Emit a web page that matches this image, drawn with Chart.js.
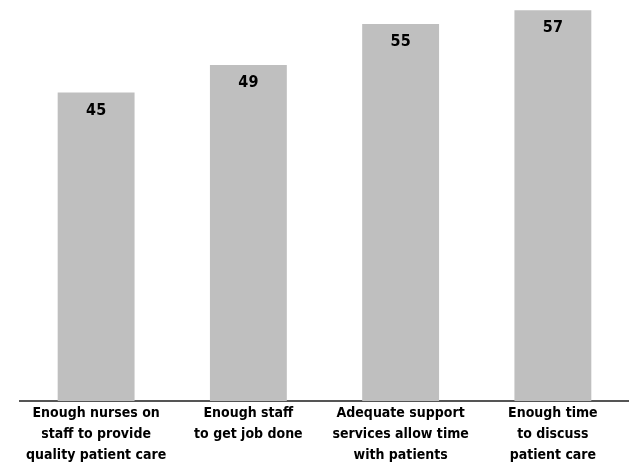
<!DOCTYPE html>
<html>
<head>
<meta charset="utf-8">
<script src="https://cdn.jsdelivr.net/npm/chart.js@4/dist/chart.umd.min.js"></script>
<style>
  html, body { margin: 0; padding: 0; background: #fff; }
  #wrap { width: 629px; height: 468px; }
</style>
</head>
<body>
<div id="wrap"><canvas id="chart"></canvas></div>
<script>
// survey items (x axis), split into lines as in the original
const categories = [
    ['Enough nurses on', 'staff to provide', 'quality patient care'],
    ['Enough staff', 'to get job done'],
    ['Adequate support', 'services allow time', 'with patients'],
    ['Enough time', 'to discuss', 'patient care']
];
const values = [45, 49, 55, 57];

const FONT = "'DejaVu Sans Condensed', 'Liberation Sans Narrow', 'Liberation Sans', sans-serif";

// writes the value just inside the top of each bar
const barValueLabels = {
    id: 'barValueLabels',
    afterDatasetsDraw(chart) {
        const ctx = chart.ctx;
        const meta = chart.getDatasetMeta(0);
        ctx.save();
        ctx.font = 'bold 16px ' + FONT;
        ctx.fillStyle = '#000';
        ctx.textAlign = 'center';
        ctx.textBaseline = 'middle';
        meta.data.forEach((bar, i) => {
            ctx.fillText(values[i], bar.x, bar.y + 18);
        });
        ctx.restore();
    }
};

const ctx = document.getElementById('chart').getContext('2d');
new Chart(ctx, {
    type: 'bar',
    data: {
        labels: categories,
        datasets: [{
            data: values,
            backgroundColor: '#bfbfbf',
            categoryPercentage: 1,
            barPercentage: 0.505
        }]
    },
    options: {
        responsive: true,
        maintainAspectRatio: false,
        animation: false,
        layout: { padding: { left: 20, right: 0, top: 0, bottom: 0 } },
        plugins: {
            legend: { display: false },
            tooltip: { enabled: false }
        },
        scales: {
            x: {
                grid: { display: false, drawTicks: false },
                border: { display: true, color: '#555', width: 2 },
                ticks: {
                    color: '#000',
                    padding: 2,
                    maxRotation: 0,
                    autoSkip: false,
                    font: { family: FONT, size: 14, weight: 'bold', lineHeight: 1.5 }
                }
            },
            y: {
                display: false,
                min: 0,
                max: 58.5
            }
        }
    },
    plugins: [barValueLabels]
});
</script>
</body>
</html>
